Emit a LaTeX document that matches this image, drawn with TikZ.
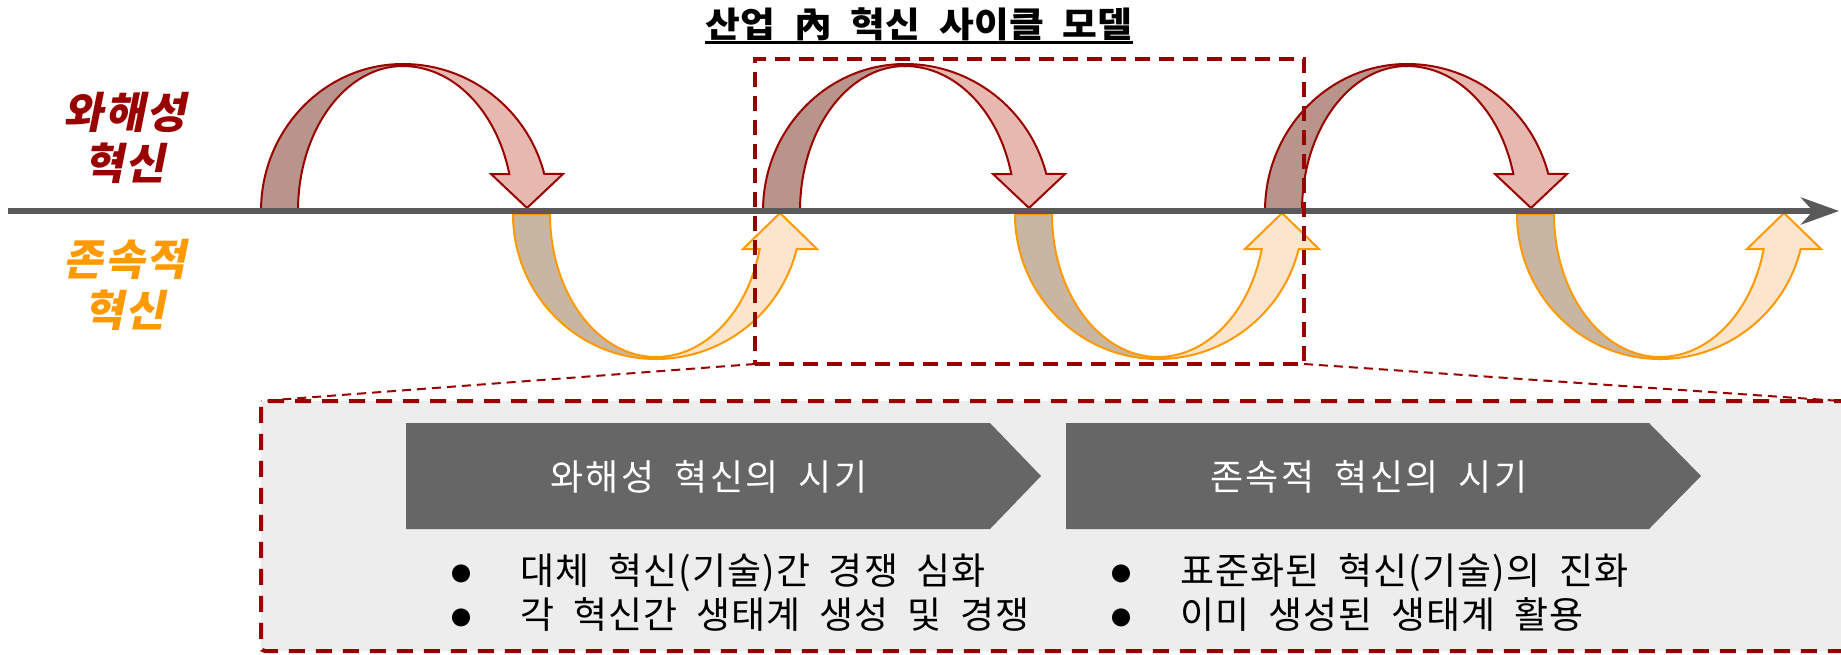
\documentclass[tikz,border=0pt]{standalone}
\usepackage{fontspec}
\newfontfamily\krbody[LetterSpace=3,WordSpace=2]{Noto Sans CJK KR}
\newfontfamily\krphase[LetterSpace=6,WordSpace=2]{Noto Sans CJK KR}
\newfontfamily\krlabel[FakeSlant=0.2,LetterSpace=4]{Noto Sans CJK KR}
\newfontfamily\krtitle[FakeStretch=1.08,WordSpace=2.2]{Noto Sans CJK KR}
\usetikzlibrary{arrows.meta,calc}
\definecolor{dred}{HTML}{990000}
\definecolor{orng}{HTML}{FF9900}
\definecolor{axisgray}{HTML}{595959}
\definecolor{topdarkfill}{HTML}{B8948B}
\definecolor{toplightfill}{HTML}{E6B8AF}
\definecolor{botdarkfill}{HTML}{C9B6A2}
\definecolor{botlightfill}{HTML}{FCE5CD}
\definecolor{chevgray}{HTML}{666666}
\definecolor{panelgray}{HTML}{EDEDED}
\newcommand\bulmark{\makebox[69pt][l]{\raisebox{3pt}{\fontsize{20}{20}\selectfont ●}}}
\tikzset{
  topdark/.style={fill=topdarkfill, draw=dred, line width=2},
  toplight/.style={fill=toplightfill, draw=dred, line width=2, line join=miter},
  botdark/.style={fill=botdarkfill, draw=orng, line width=2},
  botlight/.style={fill=botlightfill, draw=orng, line width=2, line join=miter},
  axisline/.style={draw=axisgray, line width=6, -{Stealth[length=38pt,width=27pt,inset=12pt]}},
  focusbox/.style={draw=dred, line width=4, dash pattern=on 15pt off 9pt, outer sep=0, inner sep=0},
  detailbox/.style={draw=dred, fill=panelgray, line width=4, dash pattern=on 16pt off 11pt, rounded corners=4pt, outer sep=0, inner sep=0},
  thinlink/.style={draw=dred, line width=2, dash pattern=on 9pt off 6pt},
  chev/.style={fill=chevgray},
  phasetext/.style={text=white, font=\krphase\fontsize{36}{40}\selectfont, inner sep=0},
  bulline/.style={text=black, font=\krbody\fontsize{37}{44}\selectfont, inner sep=0, anchor=base west},
  titletext/.style={text=black, font=\krtitle\bfseries\fontsize{35}{40}\selectfont, inner sep=0, anchor=base},
  sidelabel/.style={font=\krlabel\bfseries\fontsize{43}{51}\selectfont, align=center, inner sep=0},
}
\begin{document}
\begin{tikzpicture}[x=1pt,y=-1pt]
\useasboundingbox (0,0) rectangle (1841,654);
\clip (0,0) rectangle (1841,654);

% detail panel (behind)
\node[detailbox, anchor=north west, minimum width=1620, minimum height=250] (detail) at (261,401) {};

% top (disruptive) arcs
\foreach \c in {403,905,1407} {
  \path[topdark] (\c-142,211) arc[start angle=180,end angle=270,x radius=142,y radius=147]
     -- (\c,66) arc[start angle=270,end angle=180,x radius=105,y radius=145] -- cycle;
  \path[toplight] (\c,64) arc[start angle=270,end angle=345.4,x radius=146,y radius=147]
     -- (\c+160,174) -- (\c+124,208) -- (\c+88,174) -- (\c+106.3,174)
     arc[start angle=345.2,end angle=270,x radius=110,y radius=145] -- cycle;
}
% bottom (sustaining) arcs
\foreach \b in {656,1158,1660} {
  \path[botdark] (\b-143,214) arc[start angle=180,end angle=90,x radius=143,y radius=145]
     -- (\b,357) arc[start angle=90,end angle=180,x radius=106,y radius=143] -- cycle;
  \path[botlight] (\b,359) arc[start angle=90,end angle=13.97,x radius=145,y radius=145]
     -- (\b+161,249) -- (\b+124,213) -- (\b+87,249) -- (\b+103.7,249)
     arc[start angle=14.17,end angle=90,x radius=107,y radius=143] -- cycle;
}

% time axis
\coordinate (axL) at (8,211);
\coordinate (axR) at (1839,211);
\draw[axisline] (axL) -- (axR);

% focus box and links
\node[focusbox, anchor=north west, minimum width=549, minimum height=305] (focus) at (755,59) {};
\coordinate (rightend) at (1841,401);
\draw[thinlink] (focus.south west) -- (detail.north west);
\draw[thinlink] (focus.south east) -- (rightend);

% title
\node[titletext] (title) at (919,37) {산업 內 혁신 사이클 모델};
\coordinate (ulpos) at (0,42);
\draw[line width=3] (title.west |- ulpos) -- (title.east |- ulpos);

% side labels
\node[sidelabel, text=dred] (dis) at (125,138) {와해성\\혁신};
\node[sidelabel, text=orng] (sus) at (125,285) {존속적\\혁신};

% phase chevrons
\fill[chev] (406,423) -- (990,423) -- (1041,476) -- (990,529) -- (406,529) -- cycle;
\fill[chev] (1066,423) -- (1649,423) -- (1701,476) -- (1649,529) -- (1066,529) -- cycle;
\node[phasetext] (ph1) at (709,477) {와해성 혁신의 시기};
\node[phasetext] (ph2) at (1369,477) {존속적 혁신의 시기};

% bullet texts
\node[bulline] (b11) at (451,584) {\bulmark 대체 혁신(기술)간 경쟁 심화};
\node[bulline] (b12) at (451,628) {\bulmark 각 혁신간 생태계 생성 및 경쟁};
\node[bulline] (b21) at (1111,584) {\bulmark 표준화된 혁신(기술)의 진화};
\node[bulline] (b22) at (1111,628) {\bulmark 이미 생성된 생태계 활용};
\end{tikzpicture}
\end{document}
